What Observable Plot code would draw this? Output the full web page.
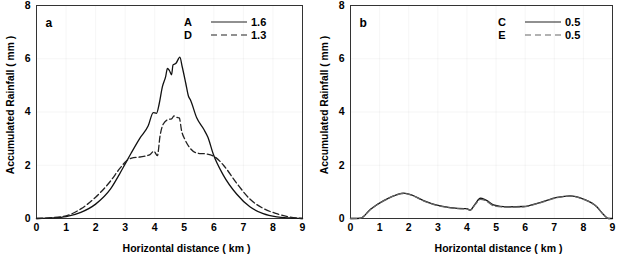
<!DOCTYPE html>
<html>
<head>
<meta charset="utf-8">
<script src="https://cdn.jsdelivr.net/npm/d3@7"></script>
<script src="https://cdn.jsdelivr.net/npm/@observablehq/plot@0.6"></script>
<style>
  body { margin: 0; background: #fff; }
  #chart { display: flex; width: 619px; height: 256px; }
  svg text { font-family: "Liberation Sans", Arial, sans-serif; font-weight: bold; }
</style>
</head>
<body>
<div id="chart"></div>
<script>
// Axis ticks and titles
const xTicks = [0, 1, 2, 3, 4, 5, 6, 7, 8, 9];
const yTicks = [0, 2, 4, 6, 8];
const xTitle = "Horizontal distance ( km )";
const yTitle = "Accumulated Rainfall ( mm )";

// Panel a — run A (solid)
const distA = [0, 0.5, 1.0, 1.5, 2.0, 2.5, 2.8, 3.0, 3.2, 3.5, 3.78, 3.95, 4.06, 4.15, 4.26, 4.37, 4.43, 4.5, 4.57, 4.62, 4.72, 4.85, 4.93, 5.05, 5.14, 5.21, 5.42, 5.66, 5.8, 5.98, 6.32, 6.77, 7.22, 7.67, 8.13, 8.58, 9.0];
const rainA = [0, 0.02, 0.07, 0.23, 0.54, 1.1, 1.65, 2.05, 2.45, 3.02, 3.48, 3.98, 3.95, 4.3, 4.95, 5.33, 5.64, 5.55, 5.4, 5.77, 5.83, 6.06, 5.7, 5.08, 4.6, 4.45, 3.78, 3.35, 3.05, 2.42, 1.63, 0.92, 0.44, 0.18, 0.06, 0.02, 0];

// Panel a — run D (dashed)
const distD = [0, 0.5, 1.0, 1.5, 2.0, 2.5, 2.82, 3.05, 3.22, 3.5, 3.84, 3.97, 4.09, 4.18, 4.29, 4.46, 4.57, 4.65, 4.75, 4.83, 4.91, 5.02, 5.19, 5.42, 5.76, 6.04, 6.32, 6.77, 7.22, 7.67, 8.13, 8.58, 9.0];
const rainD = [0, 0.03, 0.1, 0.36, 0.8, 1.4, 1.88, 2.17, 2.27, 2.31, 2.4, 2.53, 2.36, 3.1, 3.55, 3.72, 3.74, 3.85, 3.8, 3.78, 3.29, 2.97, 2.65, 2.46, 2.42, 2.31, 2.01, 1.33, 0.73, 0.38, 0.18, 0.05, 0];

// Panel b — run C (solid)
const distC = [0, 0.34, 0.69, 1.14, 1.6, 1.83, 2.11, 2.51, 2.97, 3.43, 3.89, 4.0, 4.11, 4.29, 4.46, 4.6, 4.69, 4.91, 5.37, 5.94, 6.51, 7.09, 7.54, 8.0, 8.46, 8.69, 8.86, 9.0];
const rainC = [0, 0.01, 0.35, 0.67, 0.9, 0.95, 0.88, 0.67, 0.5, 0.41, 0.37, 0.37, 0.31, 0.56, 0.76, 0.72, 0.67, 0.51, 0.44, 0.45, 0.6, 0.79, 0.85, 0.73, 0.44, 0.15, 0, 0];

// Panel b — run E (dashed)
const distE = [0, 0.34, 0.69, 1.14, 1.6, 1.83, 2.11, 2.51, 2.97, 3.43, 3.89, 4.0, 4.11, 4.29, 4.46, 4.6, 4.69, 4.91, 5.37, 5.94, 6.51, 7.09, 7.54, 8.0, 8.46, 8.69, 8.86, 9.0];
const rainE = [0, 0.01, 0.35, 0.66, 0.89, 0.94, 0.87, 0.66, 0.49, 0.4, 0.36, 0.36, 0.31, 0.53, 0.72, 0.69, 0.64, 0.48, 0.43, 0.44, 0.59, 0.78, 0.84, 0.72, 0.44, 0.15, 0, 0];

// Legend entries per panel
const legendA = ["A", "D"];
const legendAValues = ["1.6", "1.3"];
const legendB = ["C", "E"];
const legendBValues = ["0.5", "0.5"];

const rows = (xs, ys) => xs.map((x, i) => ({x, y: ys[i]}));
const DASH = "6,3";

function panel({width, marginLeft, marginRight, letter, solid, dashed, dashedColor, names, values}) {
  const plot = Plot.plot({
    width,
    height: 256,
    marginLeft,
    marginRight,
    marginTop: 5,
    marginBottom: 38,
    style: {fontFamily: "'Liberation Sans', Arial, sans-serif", fontSize: "10px", fontWeight: "bold", background: "#fff", color: "#000"},
    x: {domain: [0, 9]},
    y: {domain: [0, 8]},
    marks: [
      Plot.gridX(xTicks, {stroke: "#000", strokeOpacity: 0.04}),
      Plot.gridY(yTicks, {stroke: "#000", strokeOpacity: 0.04}),
      Plot.axisX(xTicks, {tickSize: 0, tickPadding: 5, label: null, fontSize: 10.5, tickFormat: d => d}),
      Plot.axisY(yTicks, {tickSize: 0, tickPadding: 6, label: null, fontSize: 10.5, tickFormat: d => d}),
      Plot.frame({stroke: "#333", strokeWidth: 1}),
      Plot.line(solid, {x: "x", y: "y", stroke: "#111", strokeWidth: 1.3, curve: "monotone-x"}),
      Plot.line(dashed, {x: "x", y: "y", stroke: dashedColor, strokeWidth: 1.3, strokeDasharray: DASH, curve: "monotone-x"}),
      Plot.text([letter], {frameAnchor: "top-left", dx: 9, dy: 13, fontSize: 12, fontWeight: "bold", textAnchor: "start", lineAnchor: "top"}),
      Plot.text([xTitle], {frameAnchor: "bottom", dx: 17, dy: 30, fontSize: 10.5, fontWeight: "bold", textAnchor: "middle", lineAnchor: "middle"}),
      Plot.text([yTitle], {frameAnchor: "left", dx: -26, dy: -7, rotate: -90, fontSize: 10.3, fontWeight: "bold", textAnchor: "middle", lineAnchor: "middle"})
    ]
  });

  // Legend: series name, line sample, peak value
  const svg = d3.select(plot);
  const g = svg.append("g").attr("font-size", 11).attr("font-weight", "bold");
  names.forEach((name, i) => {
    const y = 22 + i * 13;
    g.append("text").attr("x", marginLeft + 152).attr("y", y).attr("dy", "0.35em")
      .attr("text-anchor", "middle").text(name);
    g.append("line").attr("x1", marginLeft + 175).attr("x2", marginLeft + 211)
      .attr("y1", y).attr("y2", y)
      .attr("stroke", i === 0 ? "#222" : dashedColor).attr("stroke-width", 1.1)
      .attr("stroke-dasharray", i === 0 ? null : "6,4");
    g.append("text").attr("x", marginLeft + 215).attr("y", y).attr("dy", "0.35em")
      .attr("text-anchor", "start").text(values[i]);
  });
  return plot;
}

const chart = document.getElementById("chart");
chart.append(panel({
  width: 310, marginLeft: 36, marginRight: 8, letter: "a",
  solid: rows(distA, rainA), dashed: rows(distD, rainD), dashedColor: "#222",
  names: legendA, values: legendAValues
}));
chart.append(panel({
  width: 309, marginLeft: 40, marginRight: 7, letter: "b",
  solid: rows(distC, rainC), dashed: rows(distE, rainE), dashedColor: "#666",
  names: legendB, values: legendBValues
}));
</script>
</body>
</html>
